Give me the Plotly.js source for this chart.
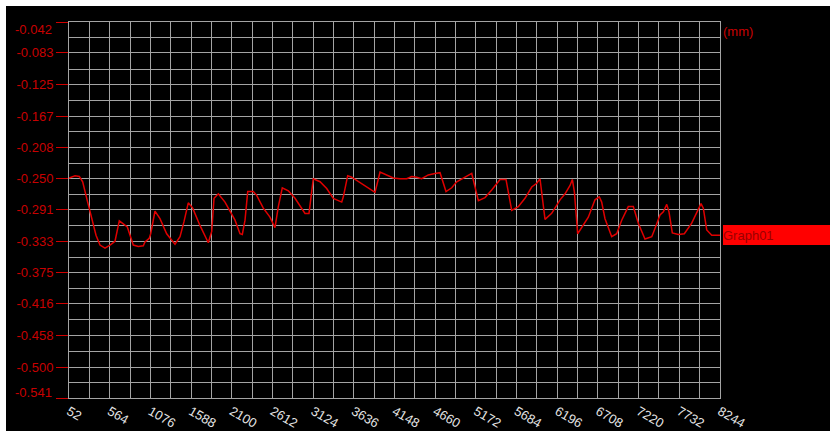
<!DOCTYPE html>
<html>
<head>
<meta charset="utf-8">
<script src="https://cdn.plot.ly/plotly-3.0.1.min.js"></script>
<style>html,body{margin:0;padding:0;background:#fff;}#chart{width:830px;height:431px;}</style>
</head>
<body>
<div id="chart"></div>
<script>
// Data
const xValues = [52,128,182,224,275,338,392,442,505,568,631,685,744,786,820,861,924,987,1008,1062,1080,1134,1197,1281,1386,1449,1499,1553,1609,1700,1805,1848,1877,1931,2015,2078,
2141,2204,2233,2267,2301,2371,2414,2497,2581,2644,2686,2736,2812,2896,2980,3022,3072,3126,3211,3295,3378,3484,3504,3559,3609,3693,3777,3903,3966,4029,4113,
4133,4217,4302,4364,4427,4490,4573,4658,4721,4796,4868,4931,5035,5120,5203,5287,5371,5476,5551,5623,5706,5790,5875,5938,5979,6042,6126,6189,
6231,6294,6357,6386,6411,6453,6524,6587,6671,6725,6755,6797,6881,6944,7007,7090,7153,7216,7300,7385,7426,7489,7531,7574,7602,7644,7720,7795,7888,7951,8005,8034,8077,8140,8244];
const yValues = [-0.249,-0.246,-0.247,-0.254,-0.276,-0.303,-0.325,-0.338,-0.342,-0.338,-0.333,-0.306,-0.311,-0.314,-0.325,-0.338,-0.340,-0.339,-0.334,-0.329,-0.323,-0.293,-0.303,-0.323,-0.337,-0.327,-0.307,-0.282,-0.289,-0.312,-0.335,-0.320,-0.276,-0.270,-0.281,-0.294,
-0.305,-0.323,-0.324,-0.305,-0.267,-0.267,-0.272,-0.289,-0.301,-0.315,-0.287,-0.262,-0.266,-0.276,-0.289,-0.296,-0.296,-0.250,-0.254,-0.263,-0.276,-0.281,-0.274,-0.246,-0.248,-0.254,-0.259,-0.268,-0.241,-0.244,-0.248,
-0.249,-0.250,-0.250,-0.247,-0.248,-0.250,-0.245,-0.243,-0.242,-0.267,-0.262,-0.254,-0.248,-0.243,-0.279,-0.275,-0.265,-0.251,-0.251,-0.292,-0.287,-0.276,-0.261,-0.256,-0.250,-0.304,-0.296,-0.285,
-0.278,-0.270,-0.259,-0.251,-0.267,-0.323,-0.312,-0.301,-0.278,-0.274,-0.281,-0.303,-0.327,-0.323,-0.305,-0.287,-0.287,-0.309,-0.330,-0.327,-0.316,-0.298,-0.294,-0.284,-0.294,-0.322,-0.324,-0.323,-0.309,-0.296,-0.283,-0.289,-0.318,-0.325,-0.325];

const xTickLabels = ['52','564','1076','1588','2100','2612','3124','3636','4148','4660','5172','5684','6196','6708','7220','7732','8244'];
const yTickLabels = ['-0.042','-0.083','-0.125','-0.167','-0.208','-0.250','-0.291','-0.333','-0.375','-0.416','-0.458','-0.500','-0.541'];
const seriesName = 'Graph01';
const unitLabel = '(mm)';

const gridColor = '#a4a4a4';
const redText = '#c80000';
const font = 'Arial, "Liberation Sans", sans-serif';

const yTickVals = yTickLabels.map(Number);
const yTickText = yTickLabels.map((t, i) => (i === 0 || i === yTickLabels.length - 1) ? '' : t);
const xTickVals = xTickLabels.map(Number);

const trace = {
  x: xValues, y: yValues, type: 'scatter', mode: 'lines',
  line: {color: '#e00000', width: 1.5}, hoverinfo: 'none', showlegend: false
};

const lastY = yValues[yValues.length - 1];

const layout = {
  width: 830, height: 431,
  margin: {l: 69, r: 110, t: 22, b: 33, pad: 0},
  paper_bgcolor: '#ffffff',
  plot_bgcolor: '#000000',
  showlegend: false,
  font: {family: font, size: 13},
  xaxis: {
    range: [52, 8244], tickmode: 'array', tickvals: xTickVals, ticktext: xTickLabels,
    tickangle: 30, ticks: '', showgrid: true, gridcolor: gridColor, gridwidth: 1,
    showline: true, linecolor: gridColor, linewidth: 1, mirror: true, zeroline: false,
    tickfont: {color: '#e6e6e6', size: 13, family: font},
    minor: {tickmode: 'linear', tick0: 308, dtick: 512, showgrid: true, gridcolor: gridColor, gridwidth: 1, ticks: ''}
  },
  yaxis: {
    range: [-0.541, -0.042], tickmode: 'array', tickvals: yTickVals, ticktext: yTickText,
    ticks: 'outside', ticklen: 12, tickwidth: 1, tickcolor: '#d00000',
    showgrid: true, gridcolor: gridColor, gridwidth: 1,
    showline: true, linecolor: gridColor, linewidth: 1, mirror: true, zeroline: false,
    tickfont: {color: redText, size: 13, family: font},
    minor: {tickmode: 'linear', tick0: -0.541 + 0.0207917, dtick: 0.0415833, showgrid: true, gridcolor: gridColor, gridwidth: 1, ticks: ''}
  },
  shapes: [{
    type: 'rect', xref: 'paper', yref: 'paper', layer: 'below',
    x0: (6 - 69) / 651, x1: 1.25, y0: -0.15, y1: (398 - 6) / 376,
    fillcolor: '#000000', line: {width: 0}
  }],
  annotations: [
    {text: yTickLabels[0], xref: 'paper', yref: 'y', x: 0, y: yTickVals[0], xanchor: 'right', yanchor: 'middle',
     xshift: -15, yshift: -7, showarrow: false, font: {color: redText, size: 13, family: font}},
    {text: yTickLabels[yTickLabels.length - 1], xref: 'paper', yref: 'y', x: 0, y: yTickVals[yTickVals.length - 1], xanchor: 'right', yanchor: 'middle',
     xshift: -15, yshift: 6, showarrow: false, font: {color: redText, size: 13, family: font}},
    {text: unitLabel, xref: 'paper', yref: 'paper', x: 1, y: 1, xanchor: 'left', yanchor: 'top',
     xshift: 1, yshift: 0, showarrow: false, font: {color: redText, size: 13, family: font}},
    {text: seriesName, xref: 'paper', yref: 'y', x: (723 - 69) / 651, y: lastY, xanchor: 'left', yanchor: 'middle',
     showarrow: false, bgcolor: '#ff0000', width: 112, height: 20, align: 'left', borderpad: 0, borderwidth: 0,
     font: {color: '#9a0000', size: 13, family: font}}
  ]
};

Plotly.newPlot('chart', [trace], layout, {staticPlot: true, displayModeBar: false});
</script>
</body>
</html>
